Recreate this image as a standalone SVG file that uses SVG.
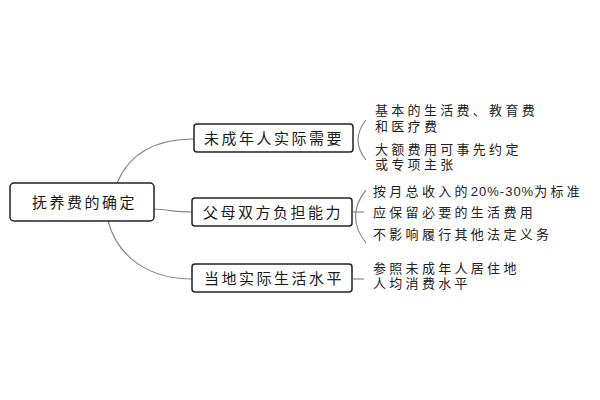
<svg xmlns="http://www.w3.org/2000/svg" width="600" height="400" viewBox="0 0 600 400">
<style>
.box{fill:#fff;stroke:#222;stroke-width:1.5}
.lbl{font-family:"Noto Sans CJK SC","Noto Sans",sans-serif;font-size:15px;letter-spacing:2.5px;fill:#1a1a1a}
.leaf{font-family:"Liberation Sans","Noto Sans CJK SC",sans-serif;font-size:13px;letter-spacing:3.3px;fill:#222}
.num{letter-spacing:1px}
.con{fill:none;stroke:#8a8a8a;stroke-width:1.2}
</style>
<rect width="600" height="400" fill="#fff"/>
<g id="connectors">
<path class="con" d="M117,183 C130,152 158,139 194,139"/>
<path class="con" d="M154,209 C170,210 178,212 192,212"/>
<path class="con" d="M108,221 C118,258 150,279 192,279"/>
<path class="con" d="M366,120 Q350,140 366,160"/>
<path class="con" d="M366,190 Q345,216 366,243"/>
<path class="con" d="M353,212 H364"/>
<path class="con" d="M353,279 H364"/>
</g>
<g id="root">
<rect class="box" x="10" y="183" width="144" height="38" rx="4"/>
<text class="lbl" x="32" y="208">抚养费的确定</text>
</g>
<g id="n1">
<rect class="box" x="194" y="124" width="159" height="28" rx="3"/>
<text class="lbl" x="204" y="144">未成年人实际需要</text>
</g>
<g id="n2">
<rect class="box" x="192" y="198" width="160" height="28" rx="3"/>
<text class="lbl" x="203" y="218">父母双方负担能力</text>
</g>
<g id="n3">
<rect class="box" x="192" y="264" width="160" height="28" rx="3"/>
<text class="lbl" x="204" y="284">当地实际生活水平</text>
</g>
<g id="leaf1a">
<text class="leaf" x="375" y="115">基本的生活费、教育费<tspan x="375" y="131">和医疗费</tspan></text>
</g>
<g id="leaf1b">
<text class="leaf" x="375" y="154">大额费用可事先约定<tspan x="375" y="169">或专项主张</tspan></text>
</g>
<g id="leaf2a">
<text class="leaf" x="373" y="196">按月总收入的<tspan class="num">20%-30%</tspan>为标准</text>
</g>
<g id="leaf2b">
<text class="leaf" x="373" y="217">应保留必要的生活费用</text>
</g>
<g id="leaf2c">
<text class="leaf" x="373" y="239">不影响履行其他法定义务</text>
</g>
<g id="leaf3">
<text class="leaf" x="373" y="273">参照未成年人居住地<tspan x="373" y="288">人均消费水平</tspan></text>
</g>
</svg>
